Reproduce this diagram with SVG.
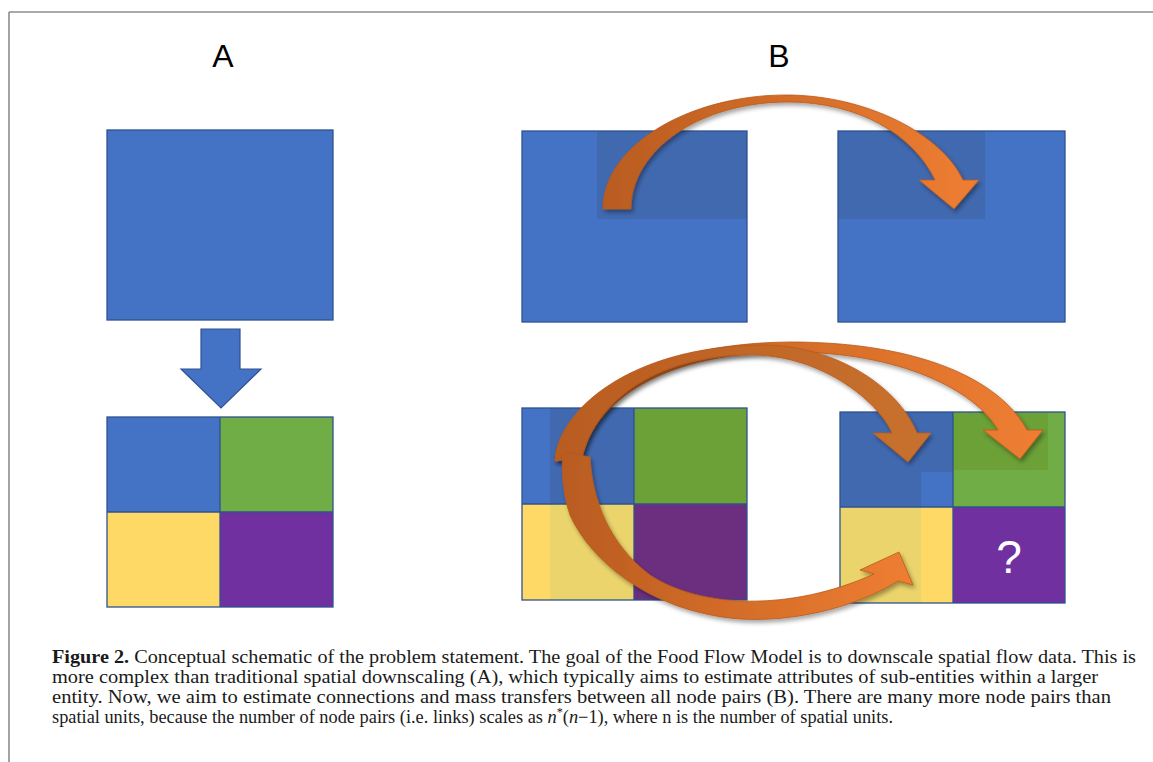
<svg xmlns="http://www.w3.org/2000/svg" width="1153" height="762" viewBox="0 0 1153 762">
<defs>
<style>
.frame{stroke:#8c8c8c;stroke-width:1.6;fill:none}
.lbl{font-family:"Liberation Sans",Arial,sans-serif;font-size:32px;fill:#000;text-anchor:middle}
.blue{fill:#4472C4}
.blueD{fill:#4169B0}
.green{fill:#70AD47}
.greenD{fill:#6BA137}
.yellow{fill:#FFD966}
.yellowD{fill:#EBD46B}
.purple{fill:#7030A0}
.purpleD{fill:#6C2F7F}
.edge{fill:none;stroke:#2F528F;stroke-width:1.3}
.arr{stroke:#B85A1C;stroke-width:0.8;stroke-linejoin:miter;filter:url(#sh)}
.cap{font-family:"Liberation Serif","Times New Roman",serif;font-size:18px;fill:#1a1a1a}
.q{font-family:"Liberation Sans",Arial,sans-serif;font-size:46px;fill:#fff;text-anchor:middle}
</style>
<filter id="sh" x="-10%" y="-10%" width="130%" height="130%">
<feDropShadow dx="2" dy="3" stdDeviation="2" flood-color="#000" flood-opacity="0.35"/>
</filter>
<linearGradient id="gTop" gradientUnits="userSpaceOnUse" x1="603" y1="0" x2="979" y2="0">
<stop offset="0" stop-color="#B95C20"/><stop offset="1" stop-color="#EF7E32"/>
</linearGradient>
<linearGradient id="gA" gradientUnits="userSpaceOnUse" x1="555" y1="0" x2="931" y2="0">
<stop offset="0" stop-color="#B95C20"/><stop offset="1" stop-color="#C8712E"/>
</linearGradient>
<linearGradient id="gB" gradientUnits="userSpaceOnUse" x1="555" y1="0" x2="1043" y2="0">
<stop offset="0" stop-color="#B95C20"/><stop offset="1" stop-color="#EF7E32"/>
</linearGradient>
<linearGradient id="gC" gradientUnits="userSpaceOnUse" x1="563" y1="0" x2="913" y2="0">
<stop offset="0" stop-color="#B95C20"/><stop offset="1" stop-color="#EF7E32"/>
</linearGradient>
</defs>

<g id="frame">
<line class="frame" x1="9" y1="12" x2="1153" y2="12"/>
<line class="frame" x1="9" y1="12" x2="9" y2="762"/>
</g>

<g id="label-A"><text class="lbl" x="223" y="67">A</text></g>
<g id="label-B"><text class="lbl" x="779" y="67">B</text></g>

<g id="node-A-top">
<rect class="blue" x="107" y="130" width="226" height="190"/>
<rect class="edge" x="107" y="130" width="226" height="190"/>
</g>

<g id="node-A-grid">
<rect class="blue" x="107" y="417" width="113" height="95"/>
<rect class="green" x="220" y="417" width="113" height="95"/>
<rect class="yellow" x="107" y="512" width="113" height="95"/>
<rect class="purple" x="220" y="512" width="113" height="95"/>
<rect class="edge" x="107" y="417" width="226" height="190"/>
<line class="edge" x1="220" y1="417" x2="220" y2="607"/>
<line class="edge" x1="107" y1="512" x2="333" y2="512"/>
</g>

<g id="node-B-top-left">
<rect class="blue" x="522" y="131" width="225" height="191"/>
<rect class="blueD" x="597" y="131" width="150" height="88"/>
<rect class="edge" x="522" y="131" width="225" height="191"/>
</g>

<g id="node-B-top-right">
<rect class="blue" x="838" y="131" width="227" height="191"/>
<rect class="blueD" x="838" y="131" width="147" height="88"/>
<rect class="edge" x="838" y="131" width="227" height="191"/>
</g>

<g id="node-B-grid-left">
<rect class="blueD" x="522" y="408" width="112" height="96"/>
<rect class="blue" x="522" y="408" width="28" height="96"/>
<rect class="greenD" x="634" y="408" width="113" height="96"/>
<rect class="yellowD" x="522" y="504" width="112" height="96"/>
<rect class="yellow" x="522" y="504" width="28" height="96"/>
<rect class="purpleD" x="634" y="504" width="113" height="96"/>
<rect class="edge" x="522" y="408" width="225" height="192"/>
<line class="edge" x1="634" y1="408" x2="634" y2="600"/>
<line class="edge" x1="522" y1="504" x2="747" y2="504"/>
</g>

<g id="node-B-grid-right">
<rect class="blueD" x="840" y="412" width="113" height="95"/>
<rect class="blue" x="921" y="472" width="32" height="35"/>
<rect class="green" x="953" y="412" width="112" height="95"/>
<rect class="greenD" x="953" y="412" width="95" height="58"/>
<rect class="yellowD" x="840" y="507" width="113" height="96"/>
<rect class="yellow" x="921" y="507" width="32" height="96"/>
<rect class="purple" x="953" y="507" width="112" height="96"/>
<rect class="edge" x="840" y="412" width="225" height="191"/>
<line class="edge" x1="953" y1="412" x2="953" y2="603"/>
<line class="edge" x1="840" y1="507" x2="1065" y2="507"/>
<text class="q" x="1009" y="573">?</text>
</g>

<g id="connectors">
<path id="arrow-A-down" d="M201 329 L240 329 L240 369 L261 369 L221 408 L181 369 L201 369 Z" fill="#4472C4" stroke="#2F528F" stroke-width="1.2"/>
<path id="arrow-B-top" class="arr" fill="url(#gTop)" d="M603 209 C603 145 690 95 786 95 C866 95 942 134 963 180 L979 180 L954 209 L919 180 L935 180 C913 134 858 102 788 102 C700 102 631 150 631 209 Z"/>
<path id="arrow-B-green" class="arr" fill="url(#gB)" d="M555 461 C560 400 650 343 790 342 C920 342 1000 380 1027 430 L1043 430 L1020 459 L983 430 L998 430 C975 390 900 352 790 352 C665 352 595 400 582 458 Z"/>
<path id="arrow-B-blue" class="arr" fill="url(#gA)" d="M555 461 C558 410 630 347 760 345 C840 345 900 390 917 433 L931 433 L908 462 L873 433 L892 433 C880 405 830 360 760 355 C660 352 595 400 582 458 Z"/>
<path id="arrow-B-yellow" class="arr" fill="url(#gC)" d="M563 452 L590 457 C592 500 610 545 650 575 C700 608 790 612 874 574 L860 570 L899 552 L913 585 L898 581 C850 610 790 622 740 619 C650 612 590 560 570 515 C563 495 561 470 563 452 Z"/>
</g>

<g id="caption">
<text class="cap" x="52" y="663" textLength="1084" lengthAdjust="spacingAndGlyphs"><tspan font-weight="bold">Figure 2.</tspan> Conceptual schematic of the problem statement. The goal of the Food Flow Model is to downscale spatial flow data. This is</text>
<text class="cap" x="52" y="683" textLength="1046" lengthAdjust="spacingAndGlyphs">more complex than traditional spatial downscaling (A), which typically aims to estimate attributes of sub-entities within a larger</text>
<text class="cap" x="52" y="703" textLength="1059" lengthAdjust="spacingAndGlyphs">entity. Now, we aim to estimate connections and mass transfers between all node pairs (B). There are many more node pairs than</text>
<text class="cap" x="52" y="723" textLength="841" lengthAdjust="spacingAndGlyphs">spatial units, because the number of node pairs (i.e. links) scales as <tspan font-style="italic">n</tspan><tspan font-size="12" dy="-7">*</tspan><tspan dy="7">(</tspan><tspan font-style="italic">n</tspan>−1), where n is the number of spatial units.</text>
</g>
</svg>
